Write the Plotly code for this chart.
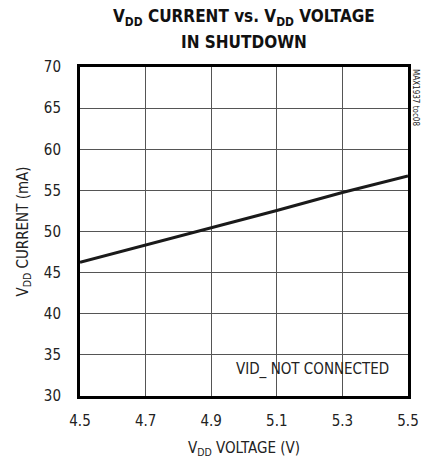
import plotly.graph_objects as go

voltage = [4.5, 4.7, 4.9, 5.1, 5.3, 5.5]
current = [46.25, 48.35, 50.4, 52.55, 54.75, 56.75]
x_ticks = [4.5, 4.7, 4.9, 5.1, 5.3, 5.5]
y_ticks = [30, 35, 40, 45, 50, 55, 60, 65, 70]

FONT = "DejaVu Sans Condensed, sans-serif"

fig = go.Figure()
fig.add_trace(go.Scatter(x=voltage, y=current, mode="lines",
                         line=dict(color="#1a1a1a", width=3), showlegend=False))

fig.update_layout(
    width=421, height=460,
    margin=dict(l=80, r=13, t=67, b=64, autoexpand=False),
    paper_bgcolor="white", plot_bgcolor="white",
    font=dict(family=FONT, size=15, color="#222"),
    xaxis=dict(range=[4.5, 5.5], tickvals=x_ticks, ticktext=[f"{v:.1f}" for v in x_ticks],
               showgrid=True, gridcolor="#555", gridwidth=1,
               showline=True, linecolor="black", linewidth=3, mirror=True,
               ticks="outside", ticklen=9, tickcolor="rgba(0,0,0,0)", zeroline=False, automargin=False,
               title=dict(text="V<sub>DD</sub> VOLTAGE (V)", standoff=14, font=dict(size=15))),
    yaxis=dict(range=[30, 70], tickvals=y_ticks,
               showgrid=True, gridcolor="#555", gridwidth=1,
               showline=True, linecolor="black", linewidth=3, mirror=True,
               ticks="outside", ticklen=13, tickcolor="rgba(0,0,0,0)", zeroline=False, automargin=False,
               title=dict(text="V<sub>DD</sub> CURRENT (mA)", standoff=12, font=dict(size=15))),
)

fig.add_annotation(x=0.5, y=1.0, xref="paper", yref="paper", yshift=50,
                   text="<b>V<sub>DD</sub> CURRENT vs. V<sub>DD</sub> VOLTAGE</b>",
                   showarrow=False, xanchor="center", yanchor="middle",
                   font=dict(family=FONT, size=17, color="#111"))
fig.add_annotation(x=0.5, y=1.0, xref="paper", yref="paper", yshift=25,
                   text="<b>IN SHUTDOWN</b>",
                   showarrow=False, xanchor="center", yanchor="middle",
                   font=dict(family=FONT, size=17, color="#111"))
fig.add_annotation(x=0.947, y=33.2, xref="paper", yref="y", text="VID_ NOT CONNECTED",
                   showarrow=False, xanchor="right", yanchor="middle",
                   font=dict(family=FONT, size=15, color="#222"))
fig.add_annotation(x=1.0, y=1.0, xref="paper", yref="paper", text="MAX1937 toc08",
                   showarrow=False, textangle=90, xanchor="left", yanchor="top", xshift=1,
                   font=dict(family=FONT, size=8, color="#222"))

fig.write_html("out.html", config={"displayModeBar": False},
               post_script="document.body.style.margin='0';document.body.style.overflow='hidden';")
